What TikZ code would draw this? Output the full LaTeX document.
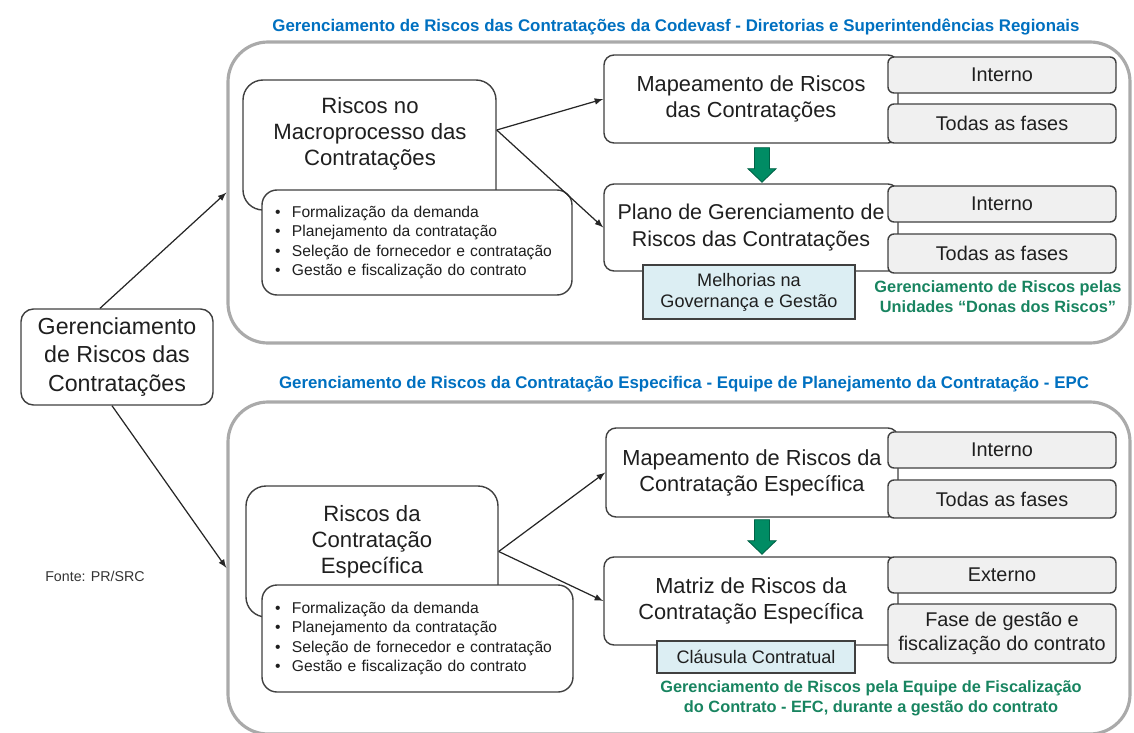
\documentclass[tikz,border=0pt]{standalone}
\usepackage{fontspec}
\setmainfont{Liberation Sans}

\definecolor{contorno}{RGB}{64,64,64}
\definecolor{cinzamoldura}{RGB}{170,170,170}
\definecolor{azultit}{RGB}{0,112,192}
\definecolor{verdetxt}{RGB}{24,132,96}
\definecolor{verdeseta}{RGB}{0,140,100}
\definecolor{cinzafundo}{RGB}{240,240,240}
\definecolor{azulclaro}{RGB}{220,238,243}

\newcommand{\setaverde}[1]{%
	\filldraw [seta] (#1) ++(-0.15, 0) -- ++(0.3, 0) -- ++(0, -0.42) -- ++(0.13, 0)
		-- ++(-0.28, -0.27) -- ++(-0.28, 0.27) -- ++(0.13, 0) -- cycle;}

\begin{document}
\begin{tikzpicture}[> = latex,
	moldura/.style = {draw = cinzamoldura, line width = 1.8pt, rounded corners = 0.8cm, inner sep = 0pt},
	caixa/.style = {draw = contorno, line width = 0.8pt, fill = white, rounded corners = 0.2cm, inner sep = 0pt, align = center, text = black!88, font = \fontsize{12.4}{14.8}\selectfont},
	lista/.style = {caixa, rounded corners = 0.3cm, align = left, inner xsep = 0.26cm, font = \fontsize{8.9}{11}\selectfont},
	tipo/.style = {caixa, fill = cinzafundo, rounded corners = 0.12cm, minimum width = 4.56cm, font = \fontsize{11.3}{13.7}\selectfont},
	nota/.style = {draw = contorno, line width = 0.8pt, fill = azulclaro, inner sep = 0pt, align = center, text = black!88, font = \fontsize{10.3}{12}\selectfont},
	verde/.style = {text = verdetxt, align = center, font = \bfseries\fontsize{9.3}{11.2}\selectfont},
	titulo/.style = {text = azultit, font = \bfseries\fontsize{9.6}{11}\selectfont},
	seta/.style = {fill = verdeseta, draw = verdeseta!70!black, line width = 0.5pt},
	ligacao/.style = {->, draw = black!85, line width = 0.7pt}]

	\useasboundingbox (0, 0) rectangle (22.68, -14.66);

	% Molduras e titulos

	\node [moldura, minimum width = 18.04cm, minimum height = 6.02cm] (quadroA) at (13.58, -3.85) {};
	\node [moldura, minimum width = 18.04cm, minimum height = 6.64cm] (quadroB) at (13.58, -11.36) {};

	\node [titulo] (tituloA) at (13.52, -0.54) {Gerenciamento de Riscos das Contratações da Codevasf - Diretorias e Superintendências Regionais};
	\node [titulo] (tituloB) at (13.68, -7.68) {Gerenciamento de Riscos da Contratação Especifica - Equipe de Planejamento da Contratação - EPC};

	% No de origem

	\node [caixa, rounded corners = 0.25cm, minimum width = 3.84cm, minimum height = 1.92cm, font = \fontsize{13.2}{16.2}\selectfont] (origem) at (2.34, -7.14) {Gerenciamento\\de Riscos das\\Contratações};
	\node [font = \fontsize{8.1}{10}\selectfont, text = black!80] (fonte) at (1.9, -11.52) {Fonte: PR/SRC};

	\draw [ligacao] ([xshift = -0.34cm] origem.north) -- (quadroA.west);
	\draw [ligacao] ([xshift = -0.1cm] origem.south) -- (quadroB.west);

	% Bloco superior

	\node [caixa, rounded corners = 0.4cm, minimum width = 5.06cm, minimum height = 2.6cm] (riscA) at (7.39, -2.9) {};
	\node [align = center, text = black!88, font = \fontsize{12.6}{14.8}\selectfont] (riscAtxt) at (7.4, -2.68) {Riscos no\\Macroprocesso das\\Contratações};
	\node [lista, text width = 5.68cm, minimum height = 2.1cm] (itensA) at (8.34, -4.85) {%
		\makebox[0.34cm][l]{\textbullet}Formalização da demanda\\
		\makebox[0.34cm][l]{\textbullet}Planejamento da contratação\\
		\makebox[0.34cm][l]{\textbullet}Seleção de fornecedor e contratação\\
		\makebox[0.34cm][l]{\textbullet}Gestão e fiscalização do contrato};

	\node [caixa, minimum width = 5.88cm, minimum height = 1.76cm] (mapA) at (15.02, -1.98) {Mapeamento de Riscos\\das Contratações};
	\node [tipo, minimum height = 0.72cm] (intA) at (20.04, -1.5) {Interno};
	\node [tipo, minimum height = 0.78cm] (fasA) at (20.04, -2.47) {Todas as fases};

	\setaverde{[xshift = 0.22cm, yshift = -0.08cm] mapA.south}

	\node [caixa, minimum width = 5.88cm, minimum height = 1.74cm, font = \fontsize{12.2}{14.8}\selectfont] (planoA) at (15.02, -4.55) {Plano de Gerenciamento de\\Riscos das Contratações};
	\node [tipo, minimum height = 0.72cm] (intB) at (20.04, -4.08) {Interno};
	\node [tipo, minimum height = 0.78cm] (fasB) at (20.04, -5.07) {Todas as fases};
	\node [nota, minimum width = 4.24cm, minimum height = 1.08cm] (melhA) at (14.98, -5.84) {Melhorias na\\Governança e Gestão};
	\node [verde] (donas) at (19.96, -5.93) {Gerenciamento de Riscos pelas\\Unidades “Donas dos Riscos”};

	\draw [ligacao] ([yshift = 0.3cm] riscA.east) -- (mapA.west);
	\draw [ligacao] ([yshift = 0.3cm] riscA.east) -- (planoA.west);

	% Bloco inferior

	\node [caixa, rounded corners = 0.4cm, minimum width = 5.04cm, minimum height = 2.62cm] (riscB) at (7.44, -11.03) {};
	\node [align = center, text = black!88, font = \fontsize{12.6}{14.8}\selectfont] (riscBtxt) at (7.44, -10.84) {Riscos da\\Contratação\\Específica};
	\node [lista, text width = 5.7cm, minimum height = 2.14cm] (itensB) at (8.35, -12.77) {%
		\makebox[0.34cm][l]{\textbullet}Formalização da demanda\\
		\makebox[0.34cm][l]{\textbullet}Planejamento da contratação\\
		\makebox[0.34cm][l]{\textbullet}Seleção de fornecedor e contratação\\
		\makebox[0.34cm][l]{\textbullet}Gestão e fiscalização do contrato};

	\node [caixa, minimum width = 5.84cm, minimum height = 1.78cm] (mapB) at (15.04, -9.45) {Mapeamento de Riscos da\\Contratação Específica};
	\node [tipo, minimum height = 0.72cm] (intC) at (20.04, -9.0) {Interno};
	\node [tipo, minimum height = 0.76cm] (fasC) at (20.04, -9.98) {Todas as fases};

	\setaverde{[xshift = 0.2cm, yshift = -0.04cm] mapB.south}

	\node [caixa, minimum width = 5.88cm, minimum height = 1.76cm] (matriz) at (15.02, -12.02) {Matriz de Riscos da\\Contratação Específica};
	\node [tipo, minimum height = 0.72cm] (intD) at (20.04, -11.5) {Externo};
	\node [tipo, minimum height = 1.18cm] (fasD) at (20.04, -12.67) {Fase de gestão e\\fiscalização do contrato};
	\node [nota, minimum width = 3.96cm, minimum height = 0.64cm] (clau) at (15.12, -13.14) {Cláusula Contratual};
	\node [verde] (efc) at (17.42, -13.96) {Gerenciamento de Riscos pela Equipe de Fiscalização\\do Contrato - EFC, durante a gestão do contrato};

	\draw [ligacao] (riscB.east) -- (mapB.west);
	\draw [ligacao] (riscB.east) -- (matriz.west);

\end{tikzpicture}
\end{document}
